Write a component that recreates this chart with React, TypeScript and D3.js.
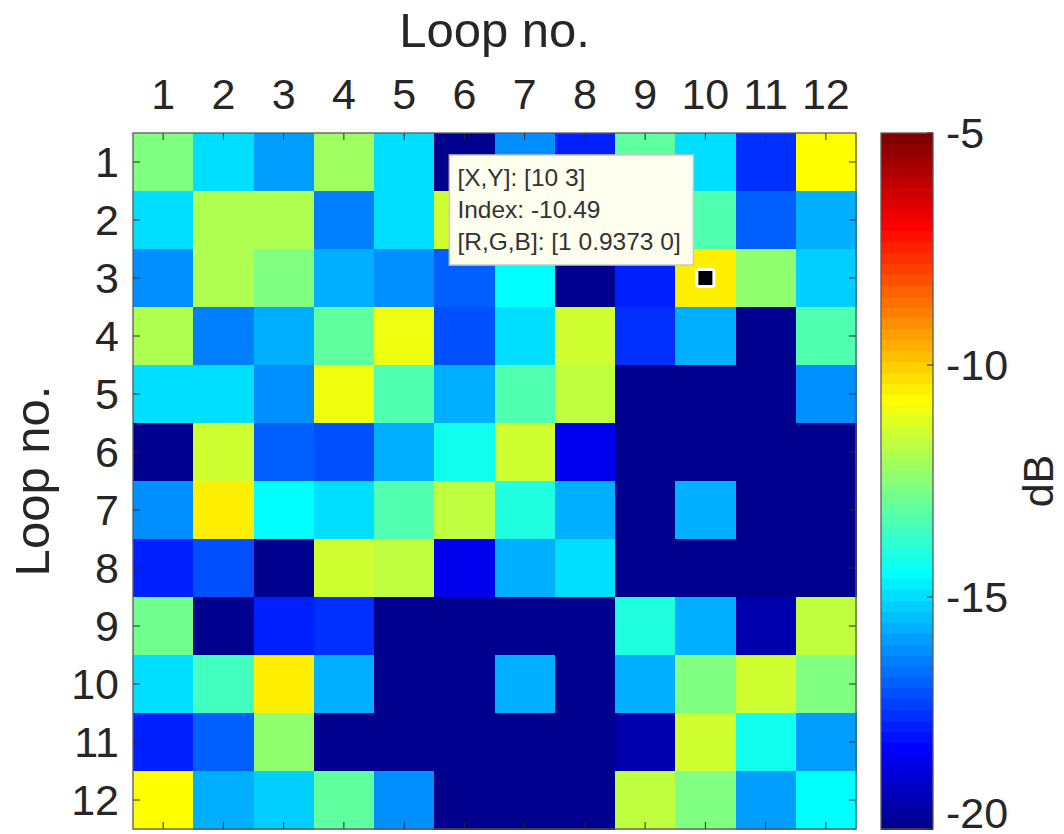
import * as d3 from 'd3';

// loop numbers on both axes
const loopNos = [1, 2, 3, 4, 5, 6, 7, 8, 9, 10, 11, 12];

// coupling level in dB, one row per loop no. (y), columns are loop no. (x)
const levelDb: number[][] = [
  [-12.6, -14.96, -15.9, -12.15, -14.96, -20, -16.13, -17.77, -13.09, -14.96, -17.54, -10.74],
  [-14.96, -11.91, -11.91, -16.37, -14.96, -11.45, -13.2, -14.5, -12.6, -13.32, -16.84, -15.66],
  [-16.13, -11.91, -12.62, -15.66, -16.13, -16.95, -14.49, -20, -17.77, -10.49, -12.38, -15.2],
  [-11.91, -16.37, -15.66, -12.97, -10.98, -17.07, -14.96, -11.45, -17.54, -15.66, -20, -13.32],
  [-14.96, -14.96, -16.13, -10.98, -13.32, -15.66, -13.32, -11.68, -20, -20, -20, -16.25],
  [-20, -11.45, -16.84, -17.07, -15.78, -14.26, -11.56, -18.36, -20, -20, -20, -20],
  [-16.13, -10.4, -14.49, -14.96, -13.32, -11.68, -14.02, -15.66, -20, -15.66, -20, -20],
  [-17.77, -17.07, -20, -11.45, -11.68, -18.48, -15.66, -14.96, -20, -20, -20, -20],
  [-12.85, -20, -17.77, -17.54, -20, -20, -20, -20, -14.02, -15.66, -19.41, -11.68],
  [-14.96, -13.55, -10.4, -15.66, -20, -20, -15.66, -20, -15.66, -12.73, -11.45, -12.62],
  [-17.77, -16.84, -12.38, -20, -20, -20, -20, -20, -19.41, -11.45, -14.26, -15.9],
  [-10.74, -15.66, -15.2, -13.2, -16.25, -20, -20, -20, -11.68, -12.62, -15.9, -14.49],
];

const cbarDomain = [-20, -5];
const cbarTicks = [-5, -10, -15, -20];

// data tip
const tipCell = [10, 3];
const tipLines = ['[X,Y]: [10 3]', 'Index: -10.49', '[R,G,B]: [1 0.9373 0]'];

const FONT = '"Liberation Sans", Arial, Helvetica, sans-serif';
const INK = '#262626';

// matlab jet(64)
function jet(m: number): string[] {
  const n = Math.ceil(m / 4);
  const u: number[] = [];
  for (let i = 1; i <= n; i++) u.push(i / n);
  for (let i = 1; i < n; i++) u.push(1);
  for (let i = n; i >= 1; i--) u.push(i / n);
  const g0 = Math.ceil(n / 2) - (m % 4 === 1 ? 1 : 0);
  const pick = (k: number, off: number) => {
    const j = k - off - g0; // position in u (1-based)
    return j >= 1 && j <= u.length ? u[j - 1] : 0;
  };
  const out: string[] = [];
  for (let k = 1; k <= m; k++) {
    const r = pick(k, n), g = pick(k, 0), b = pick(k, -n);
    out.push(d3.rgb(r * 255, g * 255, b * 255).formatHex());
  }
  return out;
}

export default function App() {
  const W = 1064, H = 834;
  const left = 133, right = 856, top = 133, bottom = 829;

  const x = d3.scaleBand<number>().domain(loopNos).range([left, right]);
  const y = d3.scaleBand<number>().domain(loopNos).range([top, bottom]);
  const colours = jet(64);
  const colour = d3.scaleQuantize<string>().domain(cbarDomain).range(colours);

  const cbLeft = 881, cbRight = 933;
  const cb = d3.scaleLinear().domain(cbarDomain).range([bottom, top]);
  const step = (cbarDomain[1] - cbarDomain[0]) / colours.length;

  const tick = 7;
  const mx = x(tipCell[0])! + x.bandwidth() / 2;
  const my = y(tipCell[1])! + y.bandwidth() / 2;
  const tipW = 244, tipH = 110;
  const tipX = mx - 12 - tipW, tipY = my - 13 - tipH;

  return (
    <div style={{ position: 'absolute', left: 0, top: 0 }}>
      <svg width={W} height={H} style={{ display: 'block', background: '#fff' }} fontFamily={FONT}>
        {/* cells */}
        <g shapeRendering="crispEdges">
          {levelDb.map((row, ri) =>
            row.map((v, ci) => (
              <rect
                key={`${ri}-${ci}`}
                x={x(loopNos[ci])}
                y={y(loopNos[ri])}
                width={x.bandwidth() + 0.5}
                height={y.bandwidth() + 0.5}
                fill={colour(v)}
              />
            ))
          )}
        </g>

        {/* ticks on all four sides, pointing in */}
        <g stroke={INK} strokeWidth={1}>
          {loopNos.map((d) => {
            const cx = x(d)! + x.bandwidth() / 2;
            const cy = y(d)! + y.bandwidth() / 2;
            return (
              <g key={d}>
                <line x1={cx} x2={cx} y1={top} y2={top + tick} />
                <line x1={cx} x2={cx} y1={bottom} y2={bottom - tick} />
                <line x1={left} x2={left + tick} y1={cy} y2={cy} />
                <line x1={right} x2={right - tick} y1={cy} y2={cy} />
              </g>
            );
          })}
        </g>
        <rect x={left} y={top} width={right - left} height={bottom - top} fill="none" stroke="#5a5a5a" strokeWidth={1.3} />

        {/* tick labels */}
        <g fill={INK} fontSize={43}>
          {loopNos.map((d) => (
            <text key={`xt${d}`} x={x(d)! + x.bandwidth() / 2} y={109} textAnchor="middle">
              {d}
            </text>
          ))}
          {loopNos.map((d) => (
            <text key={`yt${d}`} x={119} y={y(d)! + y.bandwidth() / 2} textAnchor="end" dy="0.36em">
              {d}
            </text>
          ))}
        </g>

        {/* axis titles */}
        <text x={(left + right) / 2} y={47} textAnchor="middle" fontSize={49} fill={INK}>
          Loop no.
        </text>
        <text transform={`translate(49,${(top + bottom) / 2}) rotate(-90)`} textAnchor="middle" fontSize={49} fill={INK}>
          Loop no.
        </text>

        {/* colour bar */}
        <g shapeRendering="crispEdges">
          {colours.map((c, i) => {
            const lo = cbarDomain[0] + i * step;
            return (
              <rect key={c + i} x={cbLeft} y={cb(lo + step)} width={cbRight - cbLeft} height={cb(lo) - cb(lo + step) + 0.5} fill={c} />
            );
          })}
        </g>
        <rect x={cbLeft} y={top} width={cbRight - cbLeft} height={bottom - top} fill="none" stroke="#5a5a5a" strokeWidth={1.3} />
        <g fill={INK} fontSize={43}>
          {cbarTicks.map((t) => (
            <g key={t}>
              <line x1={cbRight} x2={cbRight - 6} y1={cb(t)} y2={cb(t)} stroke={INK} />
              <text x={946} y={Math.min(cb(t), H - 21)} dy="0.36em">
                {t}
              </text>
            </g>
          ))}
        </g>
        <text transform={`translate(1053,${(top + bottom) / 2}) rotate(-90)`} textAnchor="middle" fontSize={43} fill={INK}>
          dB
        </text>

        {/* data tip */}
        <rect x={tipX} y={tipY} width={tipW} height={tipH} fill="#fffff0" stroke="#c8c8c8" strokeWidth={1.5} />
        <g fill="#333" fontSize={24.5}>
          {tipLines.map((l, i) => (
            <text key={l} x={tipX + 8} y={tipY + 31 + i * 32}>
              {l}
            </text>
          ))}
        </g>
        <rect x={mx - 10} y={my - 10} width={20} height={20} rx={4} fill="#fff" />
        <rect x={mx - 7} y={my - 7} width={14} height={14} fill="#000" />
      </svg>
    </div>
  );
}
